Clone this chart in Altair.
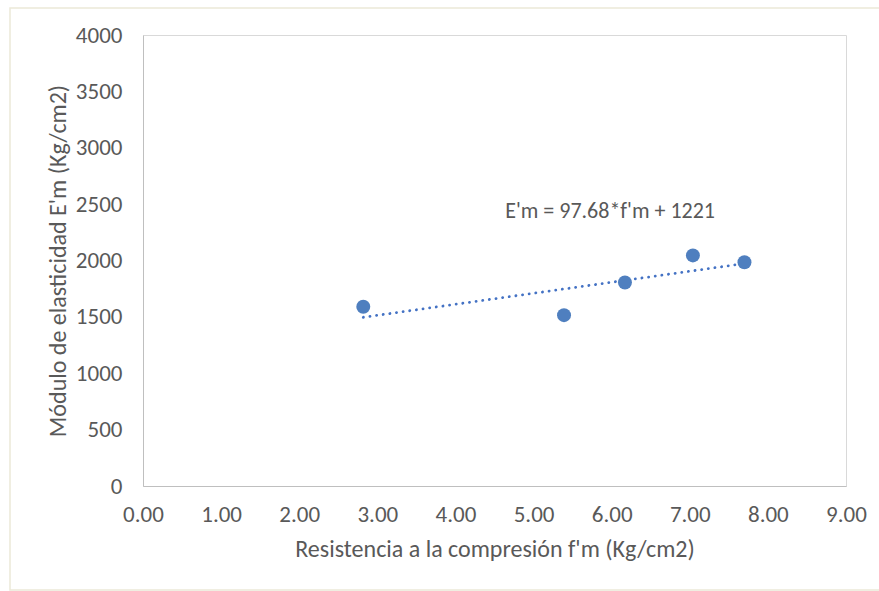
import altair as alt
import pandas as pd

fm = [2.82, 5.39, 6.17, 7.04, 7.70]
Em = [1590, 1515, 1805, 2045, 1985]

slope = 97.68
intercept = 1221
eq_label = ["E'm = 97.68*f'm + 1221"]
eq_pos_x = [5.98]
eq_pos_y = [2440]

x_ticks = [0, 1, 2, 3, 4, 5, 6, 7, 8, 9]
y_ticks = [0, 500, 1000, 1500, 2000, 2500, 3000, 3500, 4000]

pts = pd.DataFrame({"fm": fm, "Em": Em})
xs = [min(fm), max(fm)]
trend = pd.DataFrame({"fm": xs, "Em": [slope * v + intercept for v in xs]})
eq = pd.DataFrame({"fm": eq_pos_x, "Em": eq_pos_y, "t": eq_label})

FONT = "Carlito, 'Liberation Sans Narrow', Lato, sans-serif"
GRAY = "#595959"

xscale = alt.Scale(domain=[0, 9], nice=False)
yscale = alt.Scale(domain=[0, 4000], nice=False)

xaxis = alt.Axis(values=x_ticks, format=".2f", ticks=False, grid=False,
                 labelFlush=False,
                 domainColor="#bfbfbf", labelFontSize=23, labelColor=GRAY,
                 labelPadding=17, labelFont=FONT,
                 title="Resistencia a la compresión f'm (Kg/cm2)",
                 titleFontSize=24, titleColor=GRAY, titleFont=FONT,
                 titleFontWeight="normal", titlePadding=11)
yaxis = alt.Axis(values=y_ticks, format="d", ticks=False, grid=False,
                 labelFlush=False,
                 domainColor="#bfbfbf", labelFontSize=23, labelColor=GRAY,
                 labelPadding=21, labelFont=FONT,
                 title="Módulo de elasticidad E'm (Kg/cm2)",
                 titleFontSize=24, titleColor=GRAY, titleFont=FONT,
                 titleFontWeight="normal", titlePadding=5)

line = alt.Chart(trend).mark_line(color="#4472C4", strokeWidth=2.8,
                                  strokeDash=[0.1, 6.6], strokeCap="round").encode(
    x=alt.X("fm:Q", scale=xscale, axis=xaxis),
    y=alt.Y("Em:Q", scale=yscale, axis=yaxis),
)

points = alt.Chart(pts).mark_circle(size=195, color="#4f7fbf", opacity=1).encode(
    x=alt.X("fm:Q", scale=xscale),
    y=alt.Y("Em:Q", scale=yscale),
)

text = alt.Chart(eq).mark_text(fontSize=22, color=GRAY, font=FONT,
                               align="center", baseline="middle").encode(
    x=alt.X("fm:Q", scale=xscale),
    y=alt.Y("Em:Q", scale=yscale),
    text="t:N",
)

frame = alt.Chart(pd.DataFrame({"a": [0]})).mark_rect(
    fill=None, stroke="#ece9d8", strokeWidth=1.5, clip=False).encode(
    x=alt.value(-133), x2=alt.value(740), y=alt.value(-27), y2=alt.value(555),
)

chart = alt.layer(frame, line, points, text).properties(
    width=703, height=451,
    autosize=alt.AutoSizeParams(type="none"),
    padding={"left": 143, "top": 35, "right": 33, "bottom": 105},
    background="white",
).configure_view(stroke="#d9d9d9", strokeWidth=1)

chart.save("out.html", embed_options={"renderer": "svg", "actions": False})
